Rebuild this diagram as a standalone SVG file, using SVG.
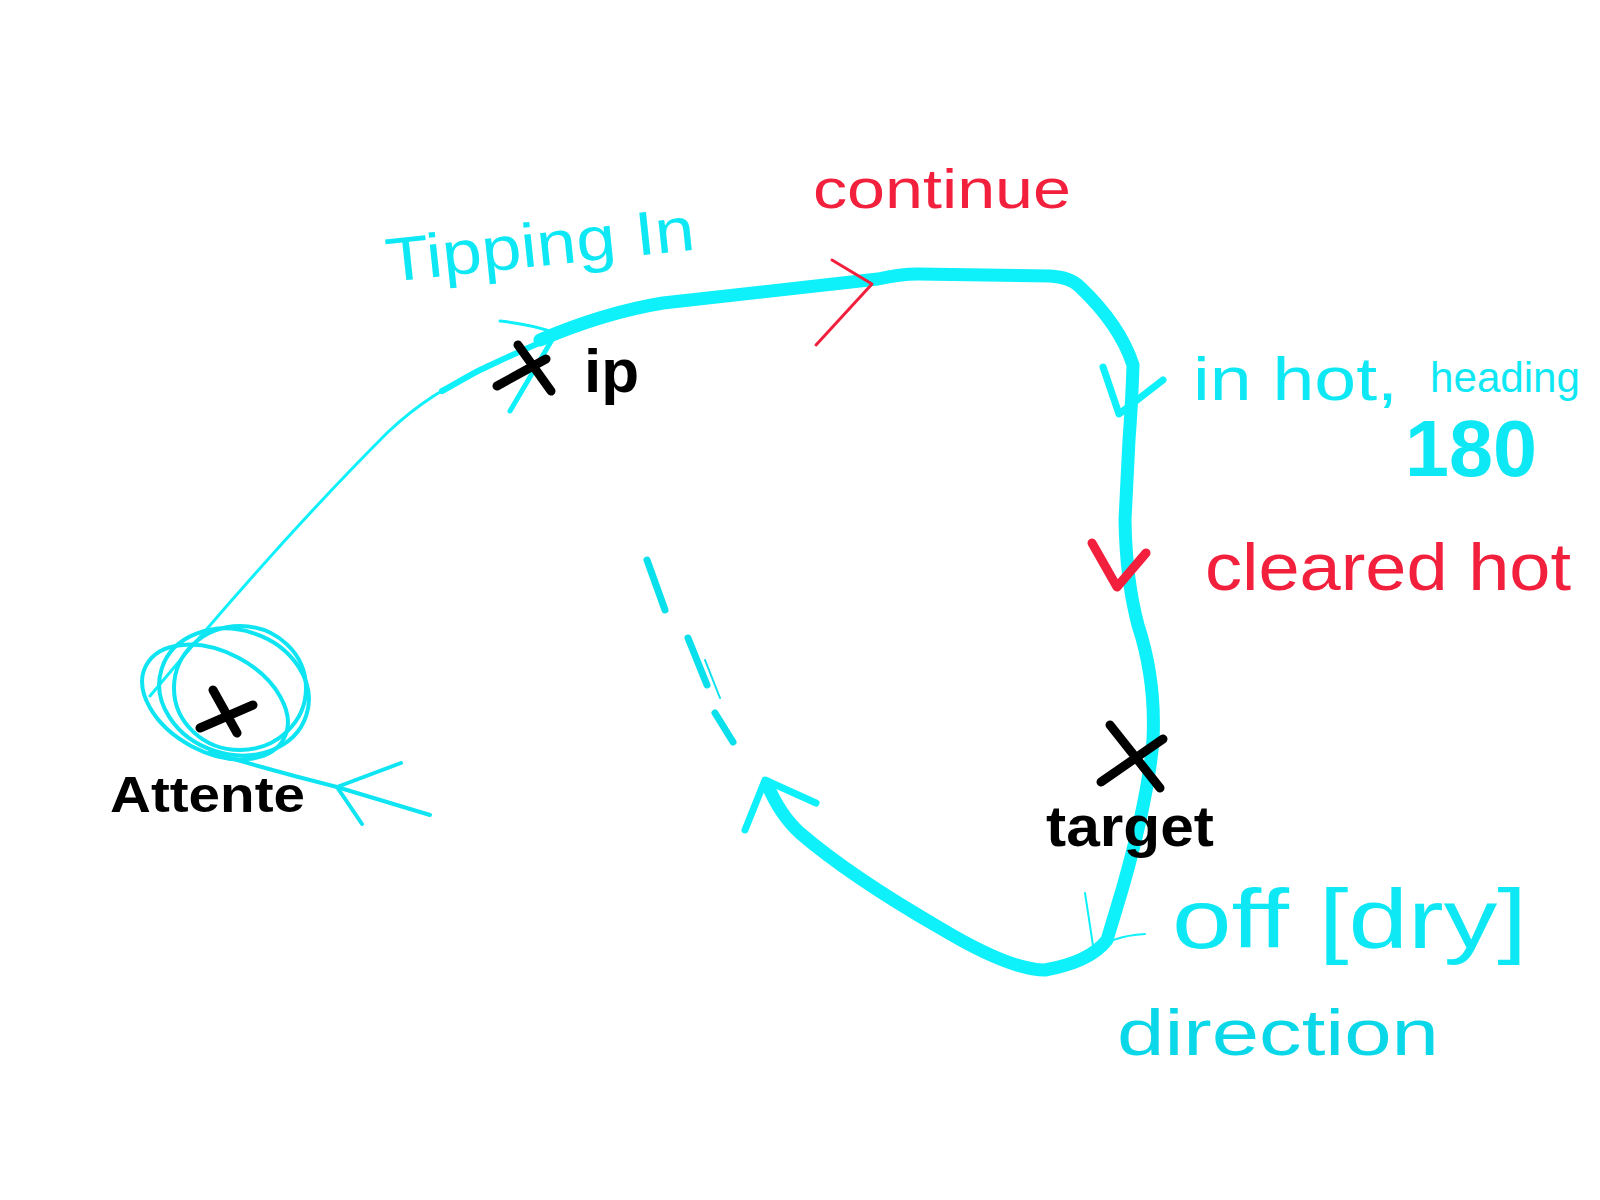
<svg xmlns="http://www.w3.org/2000/svg" width="1600" height="1200" viewBox="0 0 1600 1200">
<style>
.cy{fill:none;stroke:#0ef0fa;stroke-linecap:round;stroke-linejoin:round}
.rd{fill:none;stroke:#f2203c;stroke-linecap:round;stroke-linejoin:round}
.bk{fill:none;stroke:#000;stroke-width:9;stroke-linecap:round}
.tc{font-family:"Liberation Sans",Arial,sans-serif;fill:#0ee8f4}
.tr{font-family:"Liberation Sans",Arial,sans-serif;fill:#f2203c}
.tb{font-family:"Liberation Sans",Arial,sans-serif;fill:#000;font-weight:bold}
</style>
<rect width="1600" height="1200" fill="#fff"/>
<g id="connectors">
<path class="cy" stroke-width="3" d="M150,696 C220,612 300,520 388,432 C420,402 445,388 480,370"/>
<path class="cy" stroke-width="6" d="M442,391 C455,384 468,376 480,370 C510,356 535,344 561,334"/>
<path class="cy" stroke-width="13" d="M540,340 C580,323 620,310 663,303 L878,279 Q900,274 918,274 L1050,276 Q1070,277 1080,287 Q1120,325 1133,365 Q1132,400 1129,440 L1125,520 Q1126,580 1138,625 Q1156,680 1153,740 Q1148,800 1122,890 L1107,940 Q1090,962 1045,970 Q1010,970 940,928 Q850,876 800,833 Q780,815 767,784"/>
<path class="cy" stroke-width="7" d="M745,830 L765,780 L816,803"/>
<path class="rd" stroke-width="3" d="M816,345 L872,284 L832,260"/>
<path class="cy" stroke-width="3" d="M500,321 Q530,324 556,333"/>
<path class="cy" stroke-width="5" d="M510,411 L556,333"/>
<path class="cy" stroke-width="7" d="M1103,367 L1119,414 L1163,380"/>
<path class="rd" stroke-width="9" d="M1092,543 L1117,587 L1146,553"/>
<path class="cy" stroke-width="2" d="M1085,893 L1094,952 Q1110,936 1145,934"/>
<g class="cy" stroke-width="7" style="stroke:#0ae0ec">
<path d="M647,560 L665,610"/>
<path d="M688,638 L707,685"/>
<path d="M715,713 L733,742"/>
</g>
<path class="cy" stroke-width="2" style="stroke:#0ae0ec" d="M705,660 L720,698"/>
<g class="cy" stroke-width="4" style="stroke:#0ee4f2">
<ellipse cx="240" cy="688" rx="66" ry="62"/>
<ellipse cx="234" cy="692" rx="76" ry="62" transform="rotate(18 234 692)"/>
<ellipse cx="215" cy="702" rx="78" ry="50" transform="rotate(28 215 702)"/>
<path d="M210,752 Q270,770 337,787 L430,815"/>
<path d="M401,763 L337,787 L362,824"/>
</g>
</g>
<g id="attente">
<path class="bk" d="M200,728 L253,705 M213,690 L237,733"/>
<text class="tb" x="110" y="812" font-size="50" textLength="195" lengthAdjust="spacingAndGlyphs">Attente</text>
</g>
<g id="ip">
<path class="bk" d="M497,386 L546,359 M518,345 L551,391"/>
<text class="tb" x="584" y="392" font-size="62">ip</text>
</g>
<g id="target">
<path class="bk" d="M1110,725 L1160,788 M1101,782 L1163,739"/>
<text class="tb" x="1046" y="846" font-size="58" textLength="168" lengthAdjust="spacingAndGlyphs">target</text>
</g>
<g id="labels">
<text class="tc" x="388" y="282" font-size="62" transform="rotate(-6 388 282)" textLength="310" lengthAdjust="spacingAndGlyphs">Tipping In</text>
<text class="tr" x="813" y="208" font-size="56" textLength="258" lengthAdjust="spacingAndGlyphs">continue</text>
<text class="tc" x="1193" y="400" font-size="62" textLength="205" lengthAdjust="spacingAndGlyphs">in hot,</text>
<text class="tc" x="1430" y="392" font-size="42" textLength="150" lengthAdjust="spacingAndGlyphs">heading</text>
<text class="tc" x="1405" y="476" font-size="80" font-weight="bold" textLength="132" lengthAdjust="spacingAndGlyphs">180</text>
<text class="tr" x="1205" y="590" font-size="66" textLength="366" lengthAdjust="spacingAndGlyphs">cleared hot</text>
<text class="tc" x="1172" y="948" font-size="84" textLength="355" lengthAdjust="spacingAndGlyphs">off [dry]</text>
<text class="tc" x="1117" y="1055" font-size="64" style="fill:#0ad8e8" textLength="322" lengthAdjust="spacingAndGlyphs">direction</text>
</g>
</svg>
